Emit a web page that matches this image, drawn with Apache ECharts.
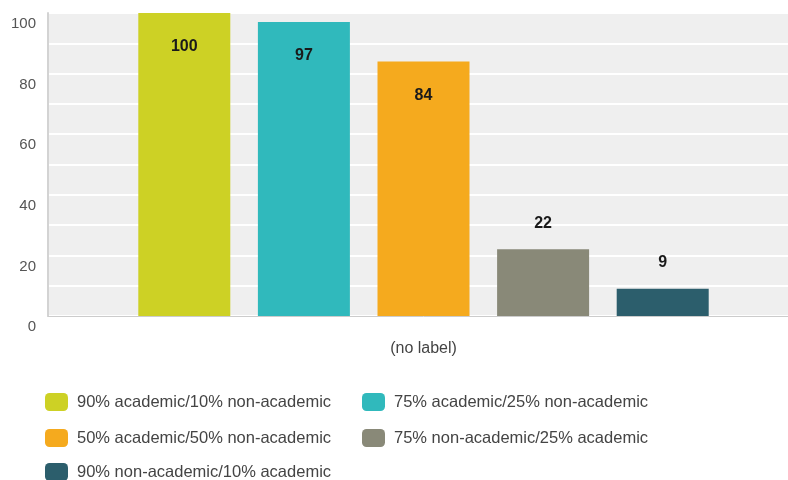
<!DOCTYPE html>
<html>
<head>
<meta charset="utf-8">
<script src="https://cdn.jsdelivr.net/npm/echarts@6/dist/echarts.min.js"></script>
<style>html,body{margin:0;padding:0;background:#fff;overflow:hidden}#c{width:799px;height:480px}</style>
</head>
<body>
<div id="c"></div>
<script>
const categories = ['(no label)'];
const seriesNames = [
  '90% academic/10% non-academic',
  '75% academic/25% non-academic',
  '50% academic/50% non-academic',
  '75% non-academic/25% academic',
  '90% non-academic/10% academic'
];
const seriesValues = [100, 97, 84, 22, 9];
const seriesColors = ['#cdd125', '#30b9bc', '#f5aa1e', '#898978', '#2c5e6c'];
const yTicks = [0, 20, 40, 60, 80, 100];

const font = 'Liberation Sans, Arial, sans-serif';
const chart = echarts.init(document.getElementById('c'));
const series = seriesNames.map((name, i) => ({
  name: name,
  type: 'bar',
  data: [seriesValues[i]],
  barWidth: 92,
  barGap: '30%',
  itemStyle: { color: seriesColors[i] },
  label: {
    show: true,
    position: seriesValues[i] > 50 ? 'insideTop' : 'top',
    distance: seriesValues[i] > 50 ? 26 : 18,
    fontFamily: font,
    fontSize: 16,
    fontWeight: 'bold',
    color: '#1a1a1a'
  }
}));

const legendBase = {
  orient: 'vertical',
  icon: 'roundRect', itemWidth: 23, itemHeight: 18, itemGap: 18,
  textStyle: { fontFamily: font, fontSize: 16.5, color: '#444', padding: [0, 0, 0, 4] }
};

chart.setOption({
  animation: false,
  grid: { left: 48, top: 13, right: 0, height: 303, show: true, backgroundColor: '#efefef', borderWidth: 0 },
  xAxis: {
    type: 'category',
    data: categories,
    axisTick: { show: false },
    axisLine: { lineStyle: { color: '#cccccc', width: 1 } },
    axisLabel: { margin: 25, fontFamily: font, fontSize: 16, color: '#444' }
  },
  yAxis: {
    type: 'value',
    min: yTicks[0],
    max: yTicks[yTicks.length - 1],
    interval: yTicks[1] - yTicks[0],
    axisLine: { show: true, lineStyle: { color: '#d3d3d3', width: 2 } },
    axisTick: { show: false },
    splitLine: { lineStyle: { color: '#ffffff', width: 2 } },
    minorTick: { show: false, splitNumber: 2 },
    minorSplitLine: { show: true, lineStyle: { color: '#ffffff', width: 2 } },
    axisLabel: { margin: 12, fontFamily: font, fontSize: 15, color: '#555', verticalAlign: 'top', lineHeight: 18, padding: [2, 0, 0, 0] }
  },
  legend: [
    Object.assign({}, legendBase, { data: [seriesNames[0], seriesNames[2]], left: 40, top: 388 }),
    Object.assign({}, legendBase, { data: [seriesNames[1], seriesNames[3]], left: 357, top: 388 }),
    Object.assign({}, legendBase, { data: [seriesNames[4]], left: 40, top: 458 })
  ],
  series: series
});
</script>
</body>
</html>
